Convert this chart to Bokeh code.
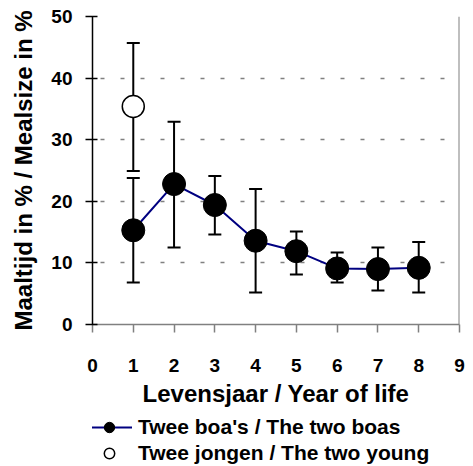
from bokeh.plotting import figure
from bokeh.layouts import column
from bokeh.models import (ColumnDataSource, Whisker, TeeHead, Range1d, Span,
                          Legend, LegendItem, FixedTicker)
from bokeh.embed import file_html
from bokeh.resources import INLINE

# ---- data ----
years = [1, 2, 3, 4, 5, 6, 7, 8]
boas_mean = [15.3, 22.8, 19.4, 13.6, 11.9, 9.1, 9.0, 9.2]
boas_upper = [23.8, 32.9, 24.1, 22.0, 15.1, 11.7, 12.5, 13.4]
boas_lower = [6.8, 12.5, 14.6, 5.2, 8.1, 6.8, 5.5, 5.2]

young_years = [1]
young_mean = [35.4]
young_upper = [45.7]
young_lower = [24.9]

x_ticks = [0, 1, 2, 3, 4, 5, 6, 7, 8, 9]
y_ticks = [0, 10, 20, 30, 40, 50]

label_boas = "Twee boa's / The two boas"
label_young = "Twee jongen / The two young"
x_title = "Levensjaar / Year of life"
y_title = "Maaltijd in % / Mealsize in %"

FONT = "Liberation Sans"
NAVY = "#000080"

boas_src = ColumnDataSource(dict(x=years, y=boas_mean, upper=boas_upper, lower=boas_lower))
young_src = ColumnDataSource(dict(x=young_years, y=young_mean, upper=young_upper, lower=young_lower))

p = figure(width=473, height=413, output_backend="svg", toolbar_location=None,
           x_range=Range1d(0, 9), y_range=Range1d(0, 50),
           min_border_left=92, min_border_right=14, min_border_top=16, min_border_bottom=89)
p.outline_line_color = None
p.background_fill_color = "white"
p.border_fill_color = "white"

# grid
p.xgrid.visible = False
p.ygrid.ticker = FixedTicker(ticks=[10, 20, 30, 40, 50])
p.ygrid.grid_line_color = "#808080"
p.ygrid.grid_line_width = 1.5
p.ygrid.grid_line_dash = "4 16"
p.ygrid.grid_line_dash_offset = 12

# right border
p.add_layout(Span(location=9, dimension="height", line_color="#808080", line_width=2))

# axes
p.xaxis.ticker = FixedTicker(ticks=x_ticks)
p.yaxis.ticker = FixedTicker(ticks=y_ticks)
for ax in (p.xaxis[0], p.yaxis[0]):
    ax.major_label_text_font = FONT
    ax.major_label_text_font_style = "bold"
    ax.major_label_text_font_size = "19px"
    ax.major_label_text_color = "black"
    ax.axis_label_text_font = FONT
    ax.axis_label_text_font_style = "bold"
    ax.axis_label_text_font_size = "24px"
    ax.axis_label_text_color = "black"
    ax.minor_tick_line_color = None

p.xaxis.axis_label = x_title
p.xaxis.axis_line_color = "#808080"
p.xaxis.axis_line_width = 1.5
p.xaxis.major_tick_line_color = "#808080"
p.xaxis.major_tick_line_width = 1.5
p.xaxis.major_tick_out = 8
p.xaxis.major_tick_in = 0
p.xaxis.major_label_standoff = 26
p.xaxis.axis_label_standoff = 5

p.yaxis.axis_label = y_title
p.yaxis.axis_line_color = "black"
p.yaxis.axis_line_width = 1.5
p.yaxis.major_tick_line_color = "black"
p.yaxis.major_tick_line_width = 1.5
p.yaxis.major_tick_out = 7
p.yaxis.major_tick_in = 5
p.yaxis.major_label_standoff = 13
p.yaxis.axis_label_standoff = 11

# error bars
for src in (young_src, boas_src):
    p.add_layout(Whisker(source=src, base="x", upper="upper", lower="lower",
                         line_color="black", line_width=2,
                         upper_head=TeeHead(size=13, line_width=2, line_color="black"),
                         lower_head=TeeHead(size=13, line_width=2, line_color="black")))

# series
p.line("x", "y", source=boas_src, line_color=NAVY, line_width=2)
p.scatter("x", "y", source=boas_src, size=23, marker="circle",
          fill_color="black", line_color="black")
p.scatter("x", "y", source=young_src, size=22, marker="circle",
          fill_color="white", line_color="black", line_width=1.5)

# ---- legend strip below the chart (same series, kept out of its own view) ----
lg = figure(width=473, height=53, output_backend="svg", toolbar_location=None,
            x_range=Range1d(0, 9), y_range=Range1d(100, 101),
            min_border_left=92, min_border_right=14, min_border_top=0, min_border_bottom=0)
lg.axis.visible = False
lg.grid.visible = False
lg.outline_line_color = None
lg.background_fill_color = "white"
lg.border_fill_color = "white"

lg_line = lg.line("x", "y", source=boas_src, line_color=NAVY, line_width=2)
lg_filled = lg.scatter("x", "y", source=boas_src, marker="circle",
                       fill_color="black", line_color="black")
lg_open = lg.scatter("x", "y", source=young_src, marker="circle", fill_color="white",
                     line_color="black", line_width=1.5)

legend = Legend(items=[LegendItem(label=label_boas, renderers=[lg_line, lg_filled]),
                       LegendItem(label=label_young, renderers=[lg_open])],
                location=(-6, 0), orientation="vertical",
                glyph_width=46, glyph_height=26, label_standoff=6, spacing=0,
                padding=0, margin=0, border_line_color=None, background_fill_alpha=0,
                label_text_font=FONT, label_text_font_style="bold",
                label_text_font_size="21px", label_text_color="black")
lg.add_layout(legend, "center")

layout = column(p, lg, spacing=0)
open("out.html", "w").write(file_html(layout, INLINE))
